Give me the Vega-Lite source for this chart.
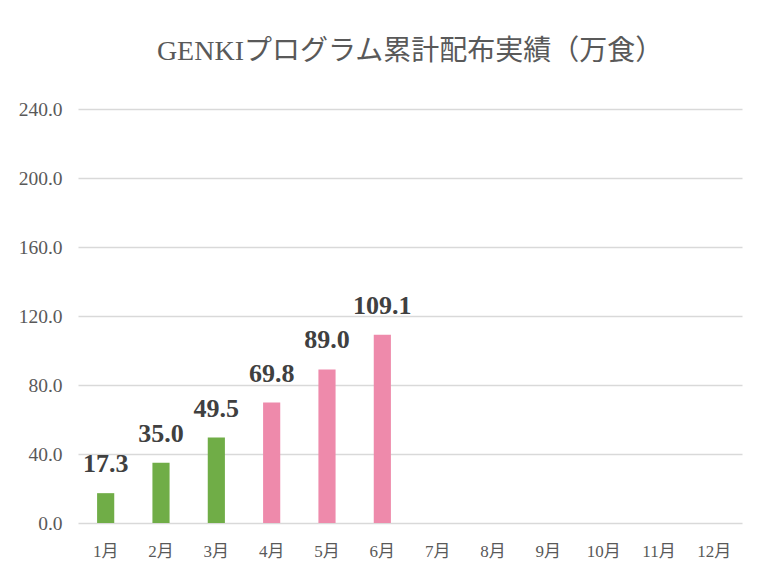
{
  "$schema": "https://vega.github.io/schema/vega-lite/v6.json",
  "width": 664,
  "height": 414,
  "autosize": {"type": "none"},
  "padding": {"left": 78, "top": 109, "right": 24, "bottom": 60},
  "background": "white",
  "title": {
    "text": "GENKIプログラム累計配布実績（万食）",
    "font": "Liberation Serif, Noto Sans CJK JP",
    "fontSize": 28,
    "fontWeight": "normal",
    "color": "#595959",
    "anchor": "middle",
    "frame": "group",
    "offset": 33
  },
  "data": {
    "values": [
      {"month": "1月", "value": 17.3, "group": "A"},
      {"month": "2月", "value": 35.0, "group": "A"},
      {"month": "3月", "value": 49.5, "group": "A"},
      {"month": "4月", "value": 69.8, "group": "B"},
      {"month": "5月", "value": 89.0, "group": "B"},
      {"month": "6月", "value": 109.1, "group": "B"}
    ]
  },
  "encoding": {
    "x": {
      "field": "month",
      "type": "nominal",
      "sort": null,
      "scale": {
        "domain": ["1月","2月","3月","4月","5月","6月","7月","8月","9月","10月","11月","12月"],
        "paddingInner": 0.69,
        "paddingOuter": 0.345
      },
      "axis": {
        "title": null,
        "labelAngle": 0,
        "domain": false,
        "ticks": false,
        "labelPadding": 20,
        "labelFont": "Liberation Serif, Noto Sans CJK JP",
        "labelFontSize": 17,
        "labelColor": "#595959"
      }
    },
    "y": {
      "field": "value",
      "type": "quantitative",
      "scale": {"domain": [0, 240]},
      "axis": {
        "title": null,
        "values": [0, 40, 80, 120, 160, 200, 240],
        "format": ".1f",
        "domain": false,
        "ticks": false,
        "labelPadding": 16,
        "labelFont": "Liberation Serif",
        "labelFontSize": 19.5,
        "labelColor": "#595959",
        "gridColor": "#D9D9D9",
        "gridWidth": 1.5
      }
    }
  },
  "layer": [
    {
      "mark": {"type": "bar"},
      "encoding": {
        "color": {
          "field": "group",
          "type": "nominal",
          "scale": {"domain": ["A", "B"], "range": ["#70AD47", "#EE8AAB"]},
          "legend": null
        }
      }
    },
    {
      "mark": {
        "type": "text",
        "baseline": "alphabetic",
        "dy": -21,
        "font": "Liberation Serif",
        "fontSize": 26,
        "fontWeight": "bold",
        "color": "#404040"
      },
      "encoding": {
        "text": {"field": "value", "type": "quantitative", "format": ".1f"}
      }
    }
  ],
  "config": {
    "view": {"stroke": null}
  }
}
